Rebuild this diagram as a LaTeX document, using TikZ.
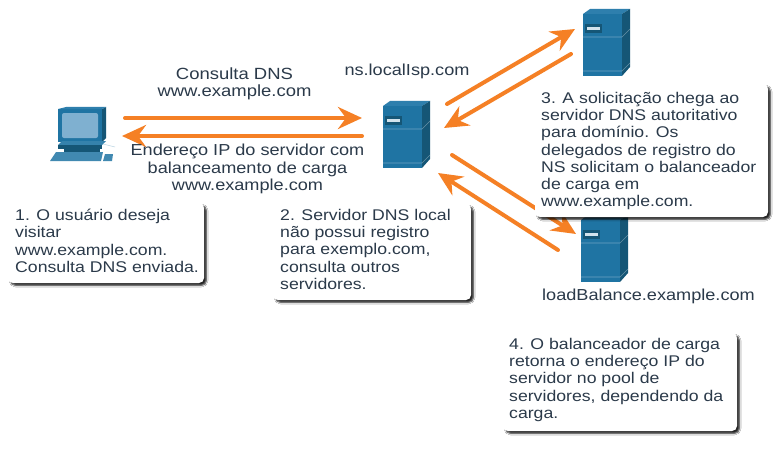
\documentclass[tikz,border=0pt]{standalone}
\usepackage{fontspec}
\setmainfont[FakeStretch=1.14]{Liberation Sans}
\usetikzlibrary{arrows.meta,shadows.blur}
\definecolor{txt}{HTML}{2B3A4A}
\definecolor{org}{HTML}{F58025}
\definecolor{srv}{HTML}{1F74A3}
\definecolor{srvtop}{HTML}{2E7FAD}
\definecolor{srvside}{HTML}{155676}
\definecolor{scr}{HTML}{7FB0D0}
\tikzset{
  x=1pt,y=-1pt,
  lbl/.style={font=\fontsize{15.9}{17.2}\selectfont,text=txt,align=center,inner sep=0pt},
  note/.style={font=\fontsize{15.5}{17.2}\selectfont,text=txt,align=left,inner sep=0pt,anchor=north west},
  card/.style={fill=white,rounded corners=5pt,draw=none,
    blur shadow={shadow xshift=2.5pt,shadow yshift=-2.5pt,shadow blur radius=1.5pt,shadow opacity=85}},
  link/.style={draw=org,line width=4pt,line cap=round,
    -{Stealth[length=24pt,width=22pt,inset=8pt]}},
  serverunit/.pic={
    \fill[srv] (0,5) rectangle (39,67);
    \fill[srvtop] (0,5) -- (7,0) -- (47,0) -- (39,5) -- cycle;
    \fill[srvside] (39,5) -- (47,0) -- (47,58) -- (39,67) -- cycle;
    \draw[white,opacity=.35,line width=.6pt] (0,28) -- (39,28) -- (47,20);
    \draw[white,opacity=.35,line width=.6pt] (0,62) -- (39,62) -- (47,54);
    \fill[srvside] (2,15) rectangle (19,24);
    \fill[white!80!srv] (4,18) rectangle (17,21);
  }
}
\begin{document}
\begin{tikzpicture}
\useasboundingbox (0,0) rectangle (777,452);
\fill[white] (0,0) rectangle (777,452);
% PC
\fill[srv] (58,109) rectangle (102,142);
\fill[srvside] (102,109) -- (106,107) -- (106,138) -- (102,142) -- cycle;
\fill[srvtop] (58,109) -- (66,107) -- (106,107) -- (102,109) -- cycle;
\fill[scr,rounded corners=2pt] (62,113) rectangle (98,138);
\fill[white!10!srv] (58,145) -- (102,145) -- (106,141) -- (62,141) -- cycle;
\fill[srvside] (58,145) rectangle (102,149);
\fill[srvside] (64,149) rectangle (100,153);
\fill[white!15!srv] (50,161) -- (56,152) -- (103,152) -- (101,161) -- cycle;
\fill[white!15!srv] (103,161) -- (105,154) -- (113,154) -- (112,161) -- cycle;
\draw[white!70!srv,line width=.5pt] (103,144) -- (115,147);
% servers
\pic at (583,9) {serverunit};
\pic at (383,101) {serverunit};
\pic at (581,215) {serverunit};
% named anchors
\coordinate (a1s) at (125,118); \coordinate (a1e) at (362,118);
\coordinate (a2s) at (362,136); \coordinate (a2e) at (122,136);
\coordinate (a3s) at (447,104); \coordinate (a3e) at (575,29);
\coordinate (a4s) at (571,54);  \coordinate (a4e) at (444,128);
\coordinate (a5s) at (452,155); \coordinate (a5e) at (576,234);
\coordinate (a6s) at (558,250); \coordinate (a6e) at (438,173);
\draw[link] (a1s) -- (a1e);
\draw[link] (a2s) -- (a2e);
\draw[link] (a3s) -- (a3e);
\draw[link] (a4s) -- (a4e);
\draw[link] (a5s) -- (a5e);
\draw[link] (a6s) -- (a6e);
% labels
\node[lbl,font=\fontsize{16.2}{17.2}\selectfont] (q) at (234.5,84) {Consulta DNS\\www.example.com};
\node[lbl] (r) at (247.5,169) {Endereço IP do servidor com\\balanceamento de carga\\www.example.com};
\node[lbl] (ns) at (407,71) {ns.localIsp.com};
\node[lbl] (lb) at (648.5,296) {loadBalance.example.com};
% cards
\fill[card] (8,203) rectangle (204,283);
\fill[card] (273,204) rectangle (471,300);
\fill[card] (535,84) rectangle (768,217);
\fill[card] (503,333) rectangle (737,431);
\node[note] (n1) at (15,209) {1. O usuário deseja\\visitar\\www.example.com.\\Consulta DNS enviada.};
\node[note] (n2) at (280,209) {2. Servidor DNS local\\não possui registro\\para exemplo.com,\\consulta outros\\servidores.};
\node[note] (n3) at (541,92) {3. A solicitação chega ao\\servidor DNS autoritativo\\para domínio. Os\\delegados de registro do\\NS solicitam o balanceador\\de carga em\\www.example.com.};
\node[note] (n4) at (509,338) {4. O balanceador de carga\\retorna o endereço IP do\\servidor no pool de\\servidores, dependendo da\\carga.};
\end{tikzpicture}
\end{document}
